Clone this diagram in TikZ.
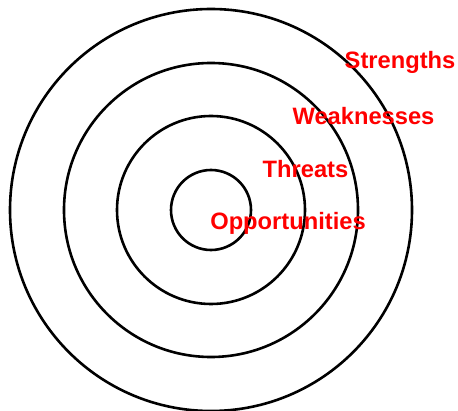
\documentclass[tikz,border=0pt]{standalone}
\usepackage{fontspec}
\setmainfont{Liberation Sans}
\tikzset{swot text/.style={text=red,font=\fontsize{23.7}{28}\selectfont\bfseries,inner sep=0pt}}
\begin{document}
\begin{tikzpicture}[x=1pt,y=1pt]
  \useasboundingbox (0,0) rectangle (458,410);
  \foreach \r in {40,94,147,201}
    \draw[line width=2.6pt] (211,200) circle[radius=\r pt];
  \node[swot text] (strengths) at (400,348) {Strengths};
  \node[swot text] (weaknesses) at (363.5,294) {Weaknesses};
  \node[swot text] (threats) at (305.5,241) {Threats};
  \node[swot text] (opportunities) at (288,187) {Opportunities};
\end{tikzpicture}
\end{document}
